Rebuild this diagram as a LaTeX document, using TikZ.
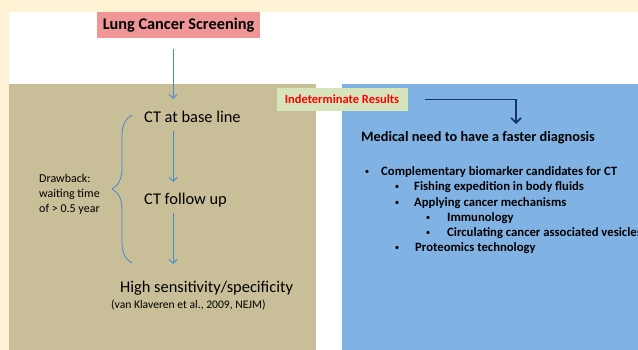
\documentclass[tikz,border=0pt]{standalone}
\usepackage{fontspec}
\setmainfont{Carlito}
\usepackage{xcolor}
\usepackage{tikz}
\usetikzlibrary{
  arrows.meta,
  decorations.pathreplacing
}
\definecolor{creambg}{RGB}{255,243,214}
\definecolor{tanpanel}{RGB}{200,190,152}
\definecolor{bluepanel}{RGB}{128,179,228}
\definecolor{screenpink}{RGB}{240,150,150}
\definecolor{indgreen}{RGB}{215,228,188}
\definecolor{flowblue}{RGB}{70,140,205}
\definecolor{navyarrow}{RGB}{20,50,120}

\begin{document}
\begin{tikzpicture}[x=1pt, y=-1pt,
  titlebox/.style={fill=screenpink, minimum width=163pt, minimum height=26pt,
                   inner sep=0pt, font=\fontsize{16.3}{18}\selectfont\bfseries},
  indbox/.style={fill=indgreen, minimum width=131pt, minimum height=23pt,
                 inner sep=0pt, text=red, font=\fontsize{12.5}{14}\selectfont\bfseries},
  steptxt/.style={anchor=west, inner sep=0pt, font=\fontsize{16.4}{18}\selectfont},
  smalltxt/.style={anchor=west, inner sep=0pt, font=\fontsize{12}{15}\selectfont},
  needtxt/.style={anchor=west, inner sep=0pt, font=\fontsize{14.3}{16}\selectfont\bfseries},
  itemtxt/.style={anchor=west, inner sep=0pt, font=\fontsize{12.7}{14}\selectfont\bfseries},
  dot/.style={inner sep=0pt, font=\fontsize{9}{10}\selectfont},
  flow/.style={draw=flowblue, line width=0.9pt, -{Straight Barb[length=4pt, width=8pt]}},
  bigflow/.style={draw=navyarrow, line width=1.6pt, -{Straight Barb[length=5pt, width=10pt]}}
]

% background and panels
\clip (0,0) rectangle (638,350);
\fill[creambg] (0,0) rectangle (638,350);
\fill[white] (9,12) rectangle (638,350);
\fill[tanpanel] (9,84) rectangle (316,350);
\fill[bluepanel] (342,84) rectangle (638,350);

% left side
\node[titlebox] (screen) at (178.5,25) {Lung Cancer Screening};
\node[steptxt] (base) at (144,117) {CT at base line};
\node[steptxt] (follow) at (144,200) {CT follow up};
\node[steptxt] (high) at (120,288) {High sensitivity/specificity};
\node[smalltxt, font=\fontsize{11.6}{13}\selectfont] (ref) at (111,305) {(van Klaveren et al., 2009, NEJM)};
\node[smalltxt, align=left] (drawback) at (39,194) {Drawback:\\waiting time\\of > 0.5 year};

\coordinate (s1) at (173,49);  \coordinate (e1) at (173,99);
\coordinate (s2) at (173,131); \coordinate (e2) at (173,182);
\coordinate (s3) at (173,213); \coordinate (e3) at (173,264);
\draw[flow] (s1) -- (e1);
\draw[flow] (s2) -- (e2);
\draw[flow] (s3) -- (e3);

% brace
\coordinate (bbot) at (132,263);
\coordinate (btop) at (132,115);
\draw[flowblue, line width=0.8pt, decorate,
      decoration={brace, amplitude=20pt, aspect=0.5}] (bbot) -- (btop);

% right side
\node[indbox] (ind) at (342,99.5) {Indeterminate Results};
\coordinate (needtip) at (516,124);
\draw[bigflow, shorten <=17pt] (ind.east) -| (needtip);

\node[needtxt] (need) at (361,138) {Medical need to have a faster diagnosis};

\foreach \i/\bx/\tx/\yy/\t in {
  1/367/381/172/Complementary biomarker candidates for CT,
  2/397/414/187/Fishing expedition in body fluids,
  3/397/414/203/Applying cancer mechanisms,
  4/428/447/218/Immunology,
  5/428/447/233/Circulating cancer associated vesicles,
  6/397/415/248/Proteomics technology}{
  \node[dot] (d\i) at (\bx,\yy) {\textbullet};
  \node[itemtxt] (t\i) at (\tx,\yy) {\t};
}

\end{tikzpicture}
\end{document}
